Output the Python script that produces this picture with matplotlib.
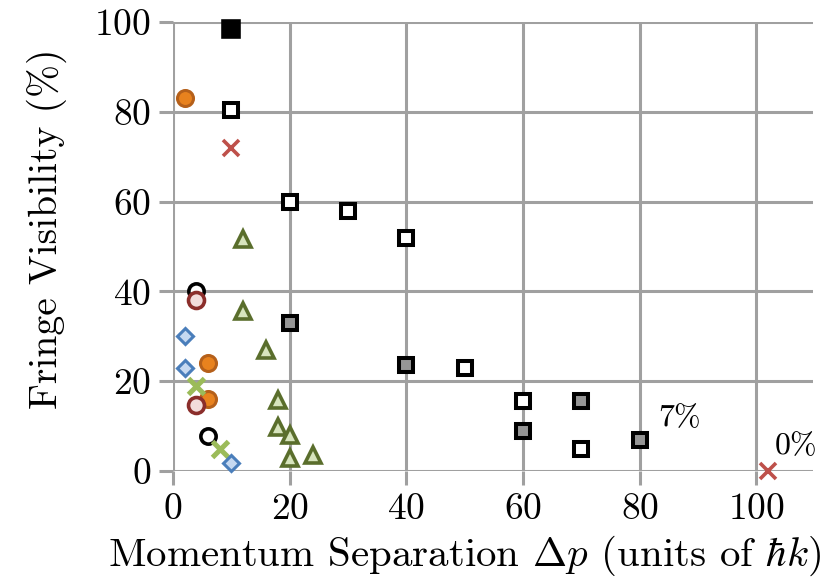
import matplotlib
matplotlib.use('Agg')
from matplotlib import pyplot as plt

# 数据：动量分离 (ħk) 与条纹可见度 (%)
black_fill_x = [10]
black_fill_y = [98.5]

open_sq_x = [10, 20, 30, 40, 50, 60, 70]
open_sq_y = [80.5, 60, 58, 52, 23, 15.5, 4.8]

gray_sq_x = [20, 40, 60, 70, 80]
gray_sq_y = [33, 23.5, 9, 15.5, 7]

orange_x = [2, 6, 6]
orange_y = [83, 24, 16]

black_circ_x = [4, 6]
black_circ_y = [40, 7.8]

pink_circ_x = [4, 4]
pink_circ_y = [38, 14.8]

diamond_x = [2, 2, 10]
diamond_y = [30, 23, 1.8]

green_x_x = [4, 8]
green_x_y = [19, 4.8]

tri_x = [12, 12, 16, 18, 18, 20, 20, 24]
tri_y = [51.7, 35.7, 27, 15.8, 9.8, 8, 2.8, 3.6]

red_x_x = [10, 102]
red_x_y = [72, 0]

plt.rcParams['font.family'] = 'serif'
plt.rcParams['font.serif'] = ['cmr10']
plt.rcParams['mathtext.fontset'] = 'cm'
plt.rcParams['axes.unicode_minus'] = False
plt.rcParams['axes.formatter.use_mathtext'] = True

fig = plt.figure(figsize=(8.33, 5.87), dpi=100)
ax = fig.add_axes([0.2077, 0.1976, 0.7683, 0.765])

common = dict(linestyle='none', clip_on=False)
ax.plot(black_circ_x, black_circ_y, marker='o', ms=11, mew=2.6, mfc='white', mec='black', zorder=3, **common)
ax.plot(orange_x, orange_y, marker='o', ms=11.5, mew=2.2, mfc='#E8821E', mec='#B5601A', zorder=3, **common)
ax.plot(pink_circ_x, pink_circ_y, marker='o', ms=11.5, mew=2.6, mfc='#F2DCDB', mec='#8B2E2B', zorder=4, **common)
ax.plot(green_x_x, green_x_y, marker='x', ms=11.5, mew=3.6, mec='#9BBB59', zorder=5, **common)
ax.plot(diamond_x, diamond_y, marker='D', ms=8.5, mew=2.2, mfc='#C6D9F1', mec='#4A7EBB', zorder=6, **common)
ax.plot(tri_x, tri_y, marker='^', ms=11, mew=2.6, mfc='#D7E4BD', mec='#5A6E2C', zorder=6, **common)
ax.plot(open_sq_x, open_sq_y, marker='s', ms=10, mew=2.9, mfc='white', mec='black', zorder=6, **common)
ax.plot(gray_sq_x, gray_sq_y, marker='s', ms=10, mew=2.9, mfc='#959595', mec='black', zorder=6, **common)
ax.plot(black_fill_x, black_fill_y, marker='s', ms=11.5, mew=2.6, mfc='black', mec='black', zorder=6, **common)
ax.plot(red_x_x, red_x_y, marker='x', ms=11.5, mew=2.6, mec='#BE504A', zorder=6, **common)

ax.text(86.8, 11.8, '7%', fontsize=23, ha='center', va='center')
ax.text(106.8, 5.6, '0%', fontsize=23, ha='center', va='center')

ax.set_xlim(0, 109.7)
ax.set_ylim(0, 100)
ax.set_xticks(range(0, 101, 20))
ax.set_yticks(range(0, 101, 20))
ax.grid(True, color='#A0A0A0', linewidth=2.2)
ax.set_axisbelow(True)
for s in ax.spines.values():
    s.set_visible(False)
ax.tick_params(length=10, width=2.2, color='#A0A0A0', labelsize=27, pad=6)

ax.set_xlabel(r'Momentum Separation $\Delta p$ (units of $\hbar k$)', fontsize=29.5)
ax.set_ylabel('Fringe Visibility (%)', fontsize=28.5)
ax.xaxis.set_label_coords(0.456, -0.14)
ax.yaxis.set_label_coords(-0.165, 0.54)

fig.savefig('out.png', dpi=100)
